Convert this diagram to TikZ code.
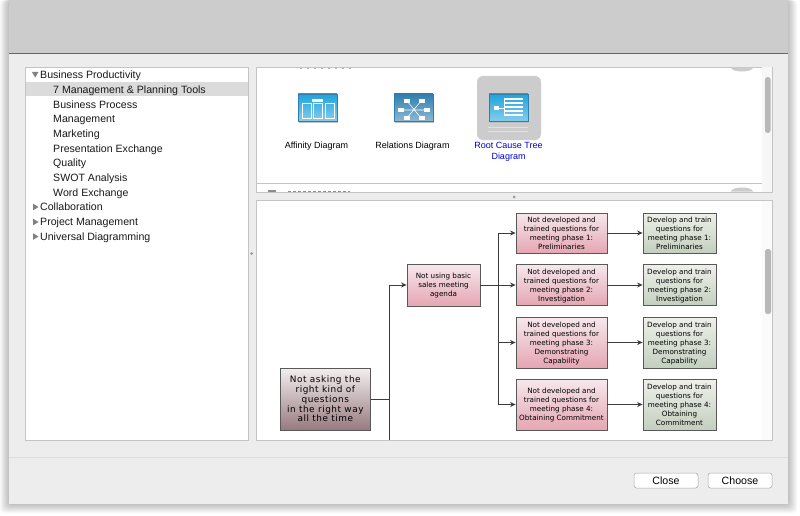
\documentclass[tikz,border=0pt]{standalone}
\usepackage{fontspec}
\setmainfont{Liberation Sans}
\newfontfamily\boxfont{DejaVu Sans}
\newfontfamily\rootfont[LetterSpace=6]{DejaVu Sans}
\usetikzlibrary{calc,arrows.meta}
\definecolor{linkgray}{HTML}{3C3C3C}
\definecolor{panelline}{HTML}{C4C4C4}
\definecolor{pinktop}{HTML}{F6E8EC}
\definecolor{pinkbot}{HTML}{E5A6B3}
\definecolor{sagetop}{HTML}{EEF0EA}
\definecolor{sagebot}{HTML}{C4CFBF}
\definecolor{roottop}{HTML}{F3EEEF}
\definecolor{rootbot}{HTML}{977A7F}
\definecolor{iconblue}{HTML}{1FA3DC}
\definecolor{icondark}{HTML}{2F7FAE}
\tikzset{
  row/.style={anchor=west,inner sep=0pt,text height=9.6pt,text depth=2pt,font=\fontsize{10.6}{12}\selectfont,text=black!90},
  bbox/.style={draw=black!65,line width=.8pt,inner sep=0pt,align=center,text depth=-2.5pt,font=\boxfont\fontsize{7.2}{8.9}\selectfont},
  pinkbox/.style={bbox,top color=pinktop,bottom color=pinkbot,minimum width=91pt},
  sagebox/.style={bbox,top color=sagetop,bottom color=sagebot,minimum width=73pt},
  rootbox/.style={bbox,top color=roottop,bottom color=rootbot,minimum width=90pt,font=\rootfont\fontsize{8.9}{9.7}\selectfont},
  link/.style={draw=linkgray,line width=1pt},
  tip/.style={link,-{Stealth[length=5.5pt,width=5pt]}},
  btn/.style={draw=black!35,line width=.5pt,fill=white,rounded corners=2.5pt,minimum width=64pt,minimum height=15pt,inner sep=0pt,font=\fontsize{10.6}{12}\selectfont},
  panel/.style={draw=panelline,line width=.8pt,fill=white},
  thumb/.style={fill=black!28,rounded corners=2.5pt},
  iconlbl/.style={inner sep=0pt,align=center,font=\fontsize{9}{11.5}\selectfont}
}
\begin{document}
\begin{tikzpicture}[x=1pt,y=-1pt]
  \useasboundingbox (0,0) rectangle (800,516);
  \fill[white] (0,0) rectangle (800,516);
  % window shadow
  \foreach \s in {1,2,...,9}
    \fill[black,opacity=.028,rounded corners=4pt] ({9-\s},0) rectangle ({788+\s},{504+\s});
  \fill[black!7] (9,0) rectangle (788,504);
  \fill[black!20] (9,0) rectangle (788,53);
  \draw[black!60,line width=.7pt] (9,53) -- (788,53);
  \draw[black!13,line width=.7pt] (9,457) -- (788,457);
  % panels
  \draw[panel] (25,67) rectangle (248,440);
  \draw[panel] (256,67) rectangle (772.5,192);
  \draw[panel] (256,200) rectangle (772.5,440);
  \fill[black!14] (26,82) rectangle (247.5,96);
  \fill[black!40] (251.5,253.5) circle (1.5pt);
  \fill[black!40] (514,197) circle (1.5pt);
  % tree
  \fill[black!50] (32,72) -- (38.5,72) -- (35.2,77.5) -- cycle;
  \foreach \y in {207,222,236.5}
    \fill[black!50] (33,\y-3.3) -- (38.5,\y) -- (33,\y+3.3) -- cycle;
  \node[row] (t1) at (40,75) {Business Productivity};
  \node[row] (t2) at (53,90) {7 Management \& Planning Tools};
  \node[row] (t3) at (53,104.5) {Business Process};
  \node[row] (t4) at (53,119) {Management};
  \node[row] (t5) at (53,133.5) {Marketing};
  \node[row] (t6) at (53,148.5) {Presentation Exchange};
  \node[row] (t7) at (53,163) {Quality};
  \node[row] (t8) at (53,178) {SWOT Analysis};
  \node[row] (t9) at (53,192.5) {Word Exchange};
  \node[row] (t10) at (40,207) {Collaboration};
  \node[row] (t11) at (40,222) {Project Management};
  \node[row] (t12) at (40,236.5) {Universal Diagramming};
  % gallery
  \fill[black!3] (761.5,67.5) rectangle (772,191.5);
  \draw[panelline,line width=.6pt] (257,183) -- (761.5,183);
  \fill[thumb] (765,77) rectangle (770.5,133);
  \fill[black!20] (731,67.5) arc[start angle=180,end angle=0,x radius=11,y radius=4] -- cycle;
  \fill[black!20] (731,191.5) arc[start angle=180,end angle=360,x radius=11,y radius=4] -- cycle;
  \fill[black!45] (268,189.5) rectangle (276,191.5);
  \draw[black!45,line width=1pt,dash pattern=on 3pt off 2pt] (288,191) -- (350,191);
  \draw[black!30,line width=.6pt,dash pattern=on 2pt off 5pt] (300,67.9) -- (352,67.9);
  \fill[black!20,rounded corners=6pt] (477,76) rectangle (541,140);
  % icons
  \foreach \x/\c in {298/iconblue,394/icondark,489/iconblue} {
    \fill[black!25] (\x+.5,121) rectangle (\x+39.5,123);
    \shade[top color=\c,bottom color=\c!55!white,draw=icondark,line width=.4pt] (\x,94) rectangle (\x+39,121);
  }
  \foreach \x in {0,1,2}
    \draw[white,line width=.9pt] (302+\x*11.5,103) rectangle (311+\x*11.5,118);
  \fill[white] (312,99) rectangle (323,102);
  \foreach \x/\y in {404/99,419/99,398/108,424/108,404/116,419/116}
    \fill[white] (\x,\y) rectangle (\x+6,\y+4);
  \draw[white,line width=.6pt] (407,118) -- (421,101) (407,101) -- (421,118) (404,110) -- (426,110);
  \fill[white] (494,106) rectangle (499,110);
  \draw[white,line width=.7pt] (499,108) -- (504,108) (504,100) -- (504,116);
  \foreach \y in {99,103,107,111,115}
    \draw[white,line width=1.4pt] (504,\y) -- (523,\y);
  \draw[black!12,line width=.4pt] (488,127) -- (528,127) (488,131) -- (528,131);
  \node[iconlbl] (a1) at (316.5,146.5) {Affinity Diagram};
  \node[iconlbl] (a2) at (412.5,146.5) {Relations Diagram};
  \node[iconlbl,text=blue!85!black] (a3) at (508.5,152) {Root Cause Tree\\Diagram};
  % diagram
  \fill[black!2] (761.5,200.5) rectangle (772,439.5);
  \fill[thumb] (765,249) rectangle (771,314);
  \node[rootbox,minimum height=62pt] (v0) at (325.3,399) {Not asking the\\right kind of\\questions\\in the right way\\all the time};
  \node[pinkbox,minimum width=73pt,minimum height=42pt] (v1) at (443.5,285) {Not using basic\\sales meeting\\agenda};
  \node[pinkbox,minimum height=40pt] (p1) at (561.5,233) {Not developed and\\trained questions for\\meeting phase 1:\\Preliminaries};
  \node[pinkbox,minimum height=41pt] (p2) at (561.5,285) {Not developed and\\trained questions for\\meeting phase 2:\\Investigation};
  \node[pinkbox,minimum height=51pt] (p3) at (561.5,342.5) {Not developed and\\trained questions for\\meeting phase 3:\\Demonstrating\\Capability};
  \node[pinkbox,minimum height=51pt] (p4) at (561.5,404.5) {Not developed and\\trained questions for\\meeting phase 4:\\Obtaining Commitment};
  \node[sagebox,minimum height=40pt] (g1) at (679.5,233) {Develop and train\\questions for\\meeting phase 1:\\Preliminaries};
  \node[sagebox,minimum height=41pt] (g2) at (679.5,285) {Develop and train\\questions for\\meeting phase 2:\\Investigation};
  \node[sagebox,minimum height=51pt] (g3) at (679.5,342.5) {Develop and train\\questions for\\meeting phase 3:\\Demonstrating\\Capability};
  \node[sagebox,minimum height=51pt] (g4) at (679.5,404.5) {Develop and train\\questions for\\meeting phase 4:\\Obtaining\\Commitment};
  \coordinate (j0) at (389,440);
  \coordinate (j1) at (498,285);
  \draw[link] (v0.east) -- (v0.east -| j0);
  \draw[tip] (j0) |- (v1);
  \draw[link] (v1) -- (j1);
  \foreach \i in {1,2,3,4} {
    \draw[tip] (j1) |- (p\i);
    \draw[tip] (p\i) -- (g\i);
  }
  % buttons
  \node[btn] (close) at (666,480.5) {Close};
  \node[btn] (choose) at (740,480.5) {Choose};
\end{tikzpicture}
\end{document}
